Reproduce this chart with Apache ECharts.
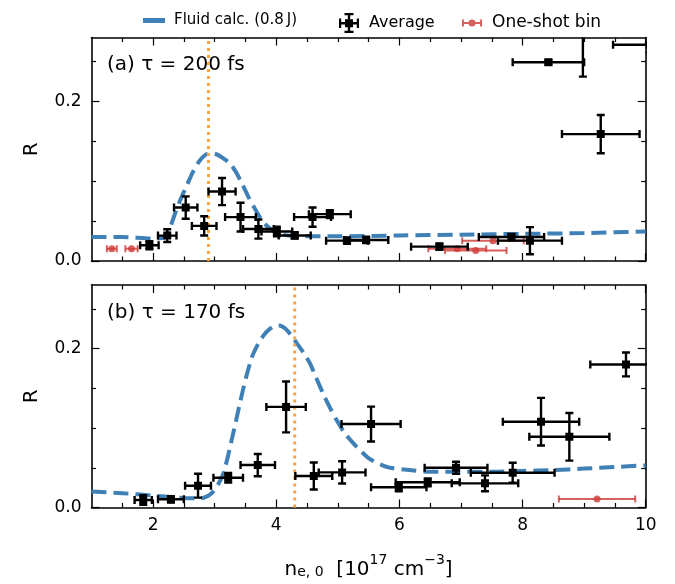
<!DOCTYPE html>
<html>
<head>
<meta charset="utf-8">
<script src="https://cdn.jsdelivr.net/npm/echarts@6/dist/echarts.min.js"></script>
<style>html,body{margin:0;padding:0;background:#fff}#c{width:675px;height:584px}</style>
</head>
<body>
<div id="c"></div>
<script>
// ---------- data ----------
const xTicks = [2, 4, 6, 8, 10];
const xMinorTicks = [1.5, 2.5, 3, 3.5, 4.5, 5, 5.5, 6.5, 7, 7.5, 8.5, 9, 9.5];
const yTicks = [0, 0.2];
const yMinorTicks = [0.05, 0.1, 0.15, 0.25];

// panel (a) tau = 200 fs
const fluidA_x = [1.0, 1.5, 2.0, 2.2, 2.25, 2.35, 2.45, 2.55, 2.65, 2.75, 2.85, 2.95, 3.05, 3.15, 3.25, 3.35, 3.45, 3.55, 3.65, 3.75, 3.85, 3.95, 4.1, 4.4, 5.0, 6.0, 7.0, 8.0, 9.0, 10.0];
const fluidA_y = [0.030, 0.030, 0.028, 0.030, 0.036, 0.058, 0.078, 0.095, 0.112, 0.125, 0.133, 0.135, 0.133, 0.128, 0.122, 0.111, 0.096, 0.080, 0.066, 0.053, 0.044, 0.038, 0.033, 0.031, 0.031, 0.032, 0.033, 0.034, 0.035, 0.037];
const avgA_x    = [1.94, 2.23, 2.53, 2.83, 3.12, 3.42, 3.71, 4.01, 4.30, 4.59, 4.87, 5.15, 5.46, 6.65, 7.82, 8.12, 8.42, 8.98, 10.07, 9.27];
const avgA_y    = [0.0197, 0.0318, 0.067, 0.044, 0.087, 0.055, 0.040, 0.037, 0.032, 0.055, 0.0587, 0.0255, 0.0264, 0.018, 0.030, 0.0255, 0.249, 0.31, 0.271, 0.159];
const avgA_xerr = [0.15, 0.15, 0.19, 0.20, 0.22, 0.25, 0.25, 0.25, 0.26, 0.30, 0.34, 0.34, 0.36, 0.46, 0.53, 0.52, 0.58, 0.60, 0.60, 0.63];
const avgA_yerr = [0.005, 0.008, 0.014, 0.012, 0.017, 0.018, 0.012, 0.006, 0.004, 0.012, 0.005, 0.004, 0.004, 0.004, 0.004, 0.017, 0.003, 0.079, 0.01, 0.024];
const shotA_x    = [1.33, 1.65, 6.94, 7.24, 7.52];
const shotA_y    = [0.0155, 0.0155, 0.0155, 0.013, 0.0255];
const shotA_xerr = [0.08, 0.10, 0.47, 0.50, 0.50];
const vlineA = 2.9;

// panel (b) tau = 170 fs
const fluidB_x = [1.0, 1.5, 2.0, 2.5, 2.75, 2.85, 2.95, 3.05, 3.15, 3.3, 3.46, 3.6, 3.7, 3.8, 3.9, 4.0, 4.05, 4.15, 4.25, 4.35, 4.45, 4.55, 4.65, 4.76, 4.87, 4.98, 5.1, 5.25, 5.4, 5.52, 5.7, 5.85, 6.2, 6.5, 7.0, 7.5, 8.0, 8.5, 9.0, 9.5, 10.0];
const fluidB_y = [0.020, 0.018, 0.015, 0.012, 0.0115, 0.013, 0.018, 0.028, 0.045, 0.093, 0.148, 0.188, 0.205, 0.217, 0.225, 0.229, 0.229, 0.225, 0.216, 0.205, 0.194, 0.181, 0.163, 0.1435, 0.126, 0.110, 0.095, 0.081, 0.069, 0.061, 0.054, 0.050, 0.047, 0.045, 0.045, 0.045, 0.046, 0.047, 0.049, 0.051, 0.053];
const avgB_x    = [1.84, 2.29, 2.73, 3.22, 3.70, 4.16, 4.61, 5.07, 5.54, 5.99, 6.46, 6.92, 7.39, 7.84, 8.30, 8.76, 9.68];
const avgB_y    = [0.0094, 0.0103, 0.0274, 0.0374, 0.0534, 0.1266, 0.0396, 0.0442, 0.105, 0.0254, 0.0317, 0.050, 0.0304, 0.0437, 0.108, 0.089, 0.180];
const avgB_xerr = [0.14, 0.21, 0.21, 0.24, 0.28, 0.32, 0.30, 0.38, 0.48, 0.45, 0.52, 0.51, 0.54, 0.68, 0.62, 0.65, 0.58];
const avgB_yerr = [0.006, 0.004, 0.015, 0.006, 0.014, 0.032, 0.017, 0.014, 0.022, 0.005, 0.005, 0.0075, 0.010, 0.0126, 0.030, 0.030, 0.015];
const shotB_x    = [9.21];
const shotB_y    = [0.0107];
const shotB_xerr = [0.62];
const vlineB = 4.3;

const NAME_FLUID = 'Fluid calc. (0.8\u2009J)';
const NAME_AVG = 'Average';
const NAME_SHOT = 'One-shot bin';

// ---------- styling ----------
const FONT = 'DejaVu Sans';
const BLUE = '#3f80b6';
const ORANGE = '#f6a545';
const RED = 'rgba(208,62,58,0.82)';
const X_MIN = 1, X_MAX = 10, Y_MIN = 0, Y_MAX = 0.28;

const zip = (...a) => a[0].map((_, i) => a.map(arr => arr[i]));

function errRender(color, marker, lw, cap, msize) {
  return function (params, api) {
    const x = api.value(0), y = api.value(1), xe = api.value(2), ye = api.value(3);
    const c = api.coord([x, y]);
    const l = api.coord([x - xe, y]), r = api.coord([x + xe, y]);
    const t = api.coord([x, y + ye]), b = api.coord([x, y - ye]);
    const st = { stroke: color, lineWidth: lw };
    const ch = [
      { type: 'line', shape: { x1: l[0], y1: c[1], x2: r[0], y2: c[1] }, style: st },
      { type: 'line', shape: { x1: l[0], y1: c[1] - cap, x2: l[0], y2: c[1] + cap }, style: st },
      { type: 'line', shape: { x1: r[0], y1: c[1] - cap, x2: r[0], y2: c[1] + cap }, style: st }
    ];
    if (ye > 0) {
      ch.push(
        { type: 'line', shape: { x1: c[0], y1: t[1], x2: c[0], y2: b[1] }, style: st },
        { type: 'line', shape: { x1: c[0] - cap, y1: t[1], x2: c[0] + cap, y2: t[1] }, style: st },
        { type: 'line', shape: { x1: c[0] - cap, y1: b[1], x2: c[0] + cap, y2: b[1] }, style: st }
      );
    }
    if (marker === 'square') {
      ch.push({ type: 'rect', shape: { x: c[0] - msize / 2, y: c[1] - msize / 2, width: msize, height: msize }, style: { fill: color } });
    } else {
      ch.push({ type: 'circle', shape: { cx: c[0], cy: c[1], r: msize / 2 }, style: { fill: color } });
    }
    return { type: 'group', children: ch };
  };
}

function xAxes(grid, showLabels) {
  const base = { gridIndex: grid, type: 'value', min: X_MIN, max: X_MAX, splitLine: { show: false } };
  const mk = (pos, major, line) => Object.assign({}, base, {
    position: pos,
    axisLine: { show: line, onZero: false, lineStyle: { color: '#000', width: 1.6 } },
    axisTick: { show: true, inside: true, length: major ? 8 : 4.5, customValues: major ? xTicks : xMinorTicks, lineStyle: { color: '#000', width: 1.2 } },
    axisLabel: (showLabels && major && pos === 'bottom') ?
      { show: true, customValues: xTicks, color: '#000', fontFamily: FONT, fontSize: 17, margin: 10 } : { show: false }
  });
  const arr = [mk('bottom', true, true), mk('bottom', false, false), mk('top', true, true), mk('top', false, false)];
  if (showLabels) {
    arr[0].name = '{n|n}{sub|e, 0}{n|  [10}{sup|17}{n| cm}{sup|\u22123}{n|]}';
    arr[0].nameLocation = 'middle';
    arr[0].nameGap = 46;
    arr[0].nameTextStyle = {
      rich: {
        n: { fontFamily: FONT, fontSize: 20, color: '#000', verticalAlign: 'bottom', lineHeight: 26 },
        sub: { fontFamily: FONT, fontSize: 14, color: '#000', verticalAlign: 'bottom', lineHeight: 18 },
        sup: { fontFamily: FONT, fontSize: 14, color: '#000', verticalAlign: 'top', lineHeight: 14 }
      }
    };
  }
  return arr;
}

function yAxes(grid) {
  const base = { gridIndex: grid, type: 'value', min: Y_MIN, max: Y_MAX, splitLine: { show: false } };
  const mk = (pos, major, line) => Object.assign({}, base, {
    position: pos,
    axisLine: { show: line, onZero: false, lineStyle: { color: '#000', width: 1.6 } },
    axisTick: { show: true, inside: true, length: major ? 8 : 4.5, customValues: major ? yTicks : yMinorTicks, lineStyle: { color: '#000', width: 1.2 } },
    axisLabel: (major && pos === 'left') ?
      { show: true, customValues: yTicks, color: '#000', fontFamily: FONT, fontSize: 17, margin: 10, formatter: v => v.toFixed(1) } : { show: false }
  });
  const arr = [mk('left', true, true), mk('left', false, false), mk('right', true, true), mk('right', false, false)];
  arr[0].name = 'R';
  arr[0].nameLocation = 'middle';
  arr[0].nameGap = 50;
  arr[0].nameTextStyle = { fontFamily: FONT, fontSize: 20, color: '#000' };
  return arr;
}

function panelSeries(axisIdx, fx, fy, ax, ay, axe, aye, sx, sy, sxe, vline) {
  return [
    {
      name: NAME_FLUID, type: 'line', xAxisIndex: axisIdx, yAxisIndex: axisIdx,
      data: zip(fx, fy), smooth: 0.3, showSymbol: false, symbol: 'none', z: 2,
      lineStyle: { color: BLUE, width: 4, type: [15, 7] }, itemStyle: { color: BLUE },
      silent: true, animation: false
    },
    {
      name: 'guide', type: 'line', xAxisIndex: axisIdx, yAxisIndex: axisIdx,
      data: [[vline, Y_MIN], [vline, Y_MAX]], showSymbol: false, symbol: 'none', z: 3,
      lineStyle: { color: ORANGE, width: 3, type: [3, 4] }, silent: true, animation: false
    },
    {
      name: NAME_SHOT, type: 'custom', xAxisIndex: axisIdx, yAxisIndex: axisIdx, clip: true, z: 4,
      itemStyle: { color: RED },
      renderItem: errRender(RED, 'circle', 2, 3.5, 7),
      data: zip(sx, sy, sxe, sx.map(() => 0)), encode: { x: 0, y: 1 }, animation: false
    },
    {
      name: NAME_AVG, type: 'custom', xAxisIndex: axisIdx, yAxisIndex: axisIdx, clip: true, z: 5,
      itemStyle: { color: '#000' },
      renderItem: errRender('#000', 'square', 2.4, 4, 8),
      data: zip(ax, ay, axe, aye), encode: { x: 0, y: 1 }, animation: false
    }
  ];
}

const legendText = { fontFamily: FONT, fontSize: 16, color: '#000', padding: [0, 0, 0, 4] };
const mkLegend = (name, icon, left, fs) => ({
  data: [{ name: name, icon: icon }], left: left, top: 8, itemWidth: 22, itemHeight: 20,
  symbolKeepAspect: true, textStyle: Object.assign({}, legendText, { fontSize: fs }), selectedMode: false, inactiveColor: '#000'
});

const option = {
  backgroundColor: '#fff',
  animation: false,
  grid: [
    { left: 91.5, right: 29.3, top: 37.5, height: 223.5 },
    { left: 91.5, right: 29.3, top: 285, height: 222.5 }
  ],
  xAxis: [...xAxes(0, false), ...xAxes(1, true)],
  yAxis: [...yAxes(0), ...yAxes(1)],
  legend: [
    mkLegend(NAME_FLUID, 'path://M0,0h22v5h-22z', 138, 15),
    mkLegend(NAME_AVG, 'path://M0,9h20v2.4h-20z M8.8,0h2.4v20h-2.4z M0,5.5h2.2v9.5h-2.2z M17.8,5.5h2.2v9.5h-2.2z M5.5,0h9v2.2h-9z M5.5,17.8h9v2.2h-9z M6,6.2h8v8h-8z', 334, 16),
    mkLegend(NAME_SHOT, 'path://M0,0h0.01v0.01h-0.01z M19.99,19.99h0.01v0.01h-0.01z M0,9h20v2h-20z M0,6.5h2v7h-2z M18,6.5h2v7h-2z M6.5,10a3.5,3.5 0 1,1 7,0a3.5,3.5 0 1,1 -7,0z', 457, 17)
  ],
  graphic: [
    { type: 'text', left: 107, top: 55, style: { text: '(a) \u03c4 = 200 fs', fontFamily: FONT, fontSize: 20, fill: '#000' } },
    { type: 'text', left: 107, top: 303, style: { text: '(b) \u03c4 = 170 fs', fontFamily: FONT, fontSize: 20, fill: '#000' } }
  ],
  series: [
    ...panelSeries(0, fluidA_x, fluidA_y, avgA_x, avgA_y, avgA_xerr, avgA_yerr, shotA_x, shotA_y, shotA_xerr, vlineA),
    ...panelSeries(4, fluidB_x, fluidB_y, avgB_x, avgB_y, avgB_xerr, avgB_yerr, shotB_x, shotB_y, shotB_xerr, vlineB)
  ]
};

const chart = echarts.init(document.getElementById('c'), null, { renderer: 'canvas' });
chart.setOption(option);
</script>
</body>
</html>
